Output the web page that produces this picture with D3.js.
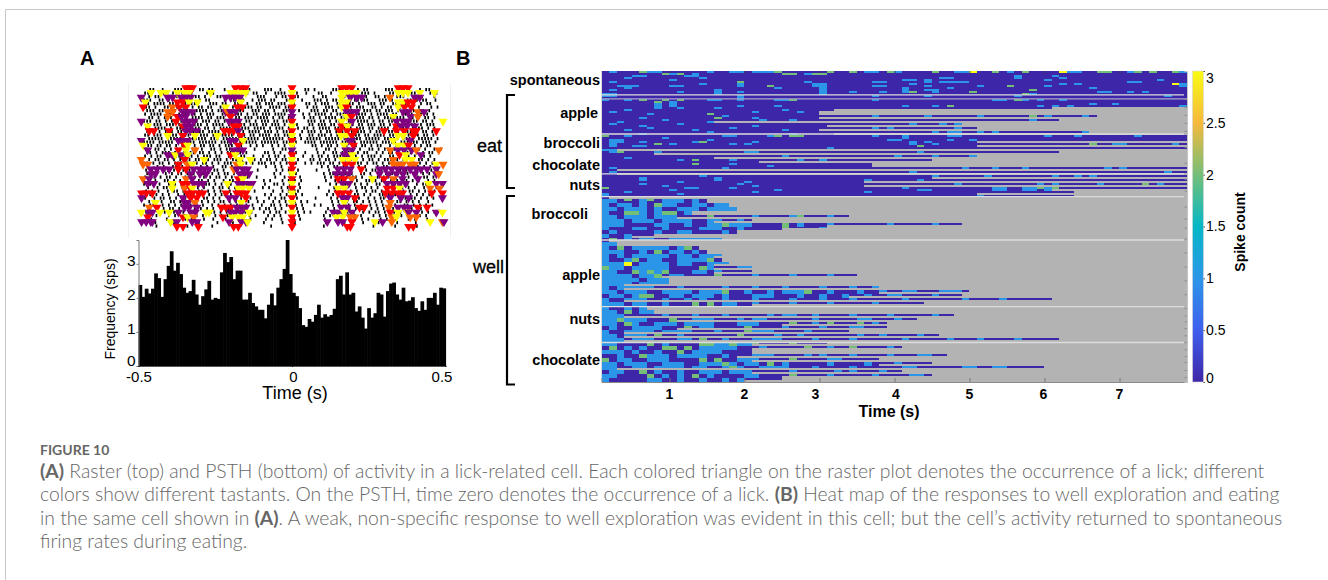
<!DOCTYPE html>
<html>
<head>
<meta charset="utf-8">
<script src="https://cdn.jsdelivr.net/npm/d3@7"></script>
<style>
	html, body { margin: 0; padding: 0; background: #fff; }
	svg { display: block; }
	text { font-family: "Liberation Sans", Arial, sans-serif; fill: #000; }
	.caption text { font-family: Lato, "Open Sans", sans-serif; fill: #666; }
</style>
</head>
<body>
<svg id="figure" width="1328" height="580"></svg>
<script>
// PSTH, sps per bin
var psthValues = [2.38,2.03,2.27,2.13,2.27,2.72,2.58,2.03,2.55,2.94,3.37,2.8,3.03,2.7,2.3,2.15,2.2,2.53,2.1,1.8,2.05,2.25,2.5,1.95,2.0,1.97,2.75,3.32,3.05,3.2,2.55,2.8,2.8,1.95,1.95,2.15,1.85,1.75,1.65,1.65,1.4,1.8,2.13,1.78,2.3,2.55,2.85,3.7,2.7,2.15,2.05,1.7,1.2,1.15,1.38,1.3,1.5,1.8,1.42,1.52,1.45,1.5,1.68,2.55,2.65,2.1,2.75,2.1,2.15,1.6,1.75,1.42,1.1,1.7,1.42,1.55,2.15,2.1,1.45,2.2,2.42,2.45,2.1,1.95,2.3,1.9,1.92,2.02,1.7,1.62,1.9,1.65,2.0,2.0,2.15,1.8,2.3,2.28];
var psthYTicks = [0, 1, 2, 3];
var psthXTicks = [-0.5, 0, 0.5];

// raster spikes, one string per trial row, | is a spike in that time bin
var rasterRows = [
	"....||..|...|||.....||.||...|....||.|....|||..|.......||.|.....|||.....|.||.....|||..|.....|.||....",
	"..||...|||.|..||.|....|||.....||...|.||..|..||||...|..|...||..|.....||..|||.|....||.|...||....|.|..",
	"...|.||...|.|||...||.|...||.|||..|....|||...|.||..||....|..||....||.|...||..||.|...|||..|.||...|...",
	"..|||..||.|...||||..|.||....|.||.||..|.|||.||...|||..|...|||.|.||...|.||.||...|||.|....||.|.||..|..",
	"...|.||||.|||..|.|||...|||.||..|||.|..||.|||.|||..|...||.|.|||..||.|||.|..|||.||..|||.||...|.||....",
	"..||.|..|||.||||.|.||.||..|||.|.|.|||.||..||||.||.....|.||..|||.|.|||.|||..||.|.||.|||.||.|...|.|..",
	"...|||.||..||.|||..||||.|.||.|||.||..|||.||.|..|||..|...|||.||.||..|||.|.|||.||.|||.|..|||.||.|....",
	"..|.||||.|||.|.||||.|.|||..||.||||.|.||.|||.||||.|...|.|.||||.|.|||.||.|||.|.||||.||.||.|.||||.|...",
	"...||.|.|||.||.|.||||.||.|||.|.||.|||.||||.|.||.||...|.||.|.||||.||.|.|||.||.|.|||.|||.||.|.||.|...",
	"..|||.||.|.||||.||.|.|||.||.||||.|.||.|.|||.||.|||.....|||.||.|.|||.||.||||.|.||.||||.|.|||.||.|...",
	"...|.|||.|||.|.||.|||.|.||||.||.|||.|||.||.|||.|.|.|...||.|||.||.|.|||.||.|||.||.|.||||.||.|.|||..",
	"..||.||||.|.|||.||||.||.|.||||.|.|||.||||.|.|||.||.|.||.|.||||.||||.|.|||.||.||||.|.|||.||||.|.|...",
	"...|||.|.|||.||.|.||||.||||.|.|||.|.||||.|||.|.|||...|.|||.|.||.||||.|.|||.|.|||.||.|.|||.|.||.|..",
	"..||.|||.||||.|||.|.|||.||.||||.|||.||.||||.||.|||..|..||.|||.|.||||.|||.||.||||.|||.|.||||.||.|...",
	"...|||||.||||||.||||||.|||.||||||.|||||.|||||||.|||.|.|||||.|||||.||||||.|||||.|||||.||||.|||||.|..",
	"..||||.|||||.||||||.||||||.|||||.||||||.||||||.|||||..||||.||||||.|||||.||||||.|||||.||||||.|||.|..",
	"...||.||.||.|.||..|.||.||.|.|||.||..|.|.|..|.|.|..|.....||.|.||.|.||..|.||.|.||..|.||.||.|.|.||....",
	"..|..||.|.|.||.|.||.|..||.|.||...|...|.....|..||.|.......|..||.|..||.|.|..||.|.||.|..||.|.|.|..|.|.",
	"...||.|.|||.|..|.||.||.|.|.|.|||.|.|.....||.|.|..|.|..|...|.|..||.|.||.|.||..|.|.||.|..||.|.|.||..",
	"..|.|.||..|.||.|||.|.|||.||..|.|.||..|..|.|.||.|.||..|..|.||.|.|||.|.||.|.|||.|..||.|.||.|.||.|...",
	"...|.||.||.|.|.||.||..|.|||.|.||.|..||.|.||.|.||.|.|...||.|.||.|.||.||..|.||.|.|||.|.||.|.||.|.|..",
	"..||.|.||.|.|||.|.||.||.|.|.|||.|.||.|.|||.||.|.||.|..|.|.|||.||.|.||.|||.|.||.|.||.|||.||.|.|.|..",
	"...|..|.|..||.|.|...|.|.|..||.|.|........|..|.|..|.........|.|.||.|..|.|.|...|.||.|.|..||.|.|.|....",
	"..|.|...||.|..|.||.|..|.||.|...|......|.....|.|.|..|.....|...|..|.|.|..|.|.||.|..|.||.|..|.|..|.|..",
	"...||.|..|.|.||.|.|.||..|.|.||.|..|.........|.|..|.|........|.||.|.|.|..||.|..|.|.|.||.|.||.|.|....",
	"..|..|.|.||.|..||.|..|.|.||.|.|....|..|.....|..|.|..|.......|.|..|.|.||.|..|.|.||..|.|.|..|.||.|...",
	"...|.|..||.|.|.|.|.||.|.|..|.||.|.......|.|...|.|.|.|.......|..|.||.|.|..||.|.|..|.|.||.|.|..|.|..",
	"..|.||.|..|.|.||..|.|.||.|.|..|..|.|.....|..||.|.|..|.........|.|..||.|.|.|..||.|.||.|.|..|.||.....",
	"...|..|.||.|..|.||.|.|..|.||.|.|........|.|...|.|.|.|.....|....|.|.|..|.||.|.|..|.|.||.|.|..|.|.|..",
	"..|.|.|..|.||.|.|..||.|.|.|..|.|.|...|.....|..|.|.||.........|.||.|.|.|..|.||.|.|.|..|.||.|.|..|...",
	"...||.|.|.|..|.|.||.|..|.|.||.|..|.|.....|.|..|.|..|.|.......|.|..|.|.||.|.|..||.|.|.|..|.|.|.|....",
	"..|..|.||.|.|..|.|.|.||.|.|..|.|.|..|.|...|.|.||.|.|.....|....|.|.||.|.|..|.|.||.|..|.|.||.|.|.|...",
	"...|.|.|..||.|.|.|..|.|.|.||.|.|.|.|..|.|..|.|.|.||.|.|.......|.|.|..||.|.|.|.|..|.||.|.|.|..|.....",
	"..|.||..|.|.|.||.|.|.|..|.|.|.|.||.|.|..|..||.|.|.||.|...|.|...|.|.||.|.|..|.|.|.|.|..||.|.|.|.|...",
	"...|..|.|.||.|..|.|.|.|.|..|.||.|.|..|.|.||.|.|..|.|.|.......|.|.|..|.|.||.|.|.|..|.|.|.|.||.|.....",
	"..|.|.|.|..|.||.|.|..|.||.|.|...|.|.|...|.|.||.|.|.|.|.|....|..|.|.|.|..|.|.||.|.||.|..|.|.|.|.|...",
	"...|..|...|.|..|.|.|.|...|.|.|.|....|.|...|.|.|...|.|.......|.|...|.|.|.|...|.|.|.|..|.|...|.|.....",
	"....|....|.....|.|...|..|...|.|.....|....|.|..|...|.|.......|...|...|...|.|...|.|..|...|.|...|.....",
	".....|.....|.......|.....|....|.........|.....|...|.........|.....|.....|....|.....|.....|.........",
	"......|.........|.......|.......|..........|......|.........|.......|.......|......|......|........"
];

// licks per raster row, letter is the tastant colour, number is ms from lick
var lickRows = [
	"r-346 r-335 r-324 r-184 r-167 r-151 r0 r162 r178 r194 r346 r362 r378",
	"y-459 y-427 y-410 y-373 y-350 y-335 y-265 y-200 y-184 y-167 y-151 y0 y162 y178 y194 y210 y346 y362 y378 y416 y464",
	"p-491 p-405 p-389 p-361 p-346 p-330 p-216 p-200 p-184 p-170 r0 y162 p190 p210 p227 o319 p400 p416",
	"y-478 r-373 r-356 y-335 y-308 y-167 y0 y162 y178 y346 y362 r378 r394",
	"r-485 o-389 r-367 r-346 y-216 r-178 r-162 r0 y162 r178 y346 r367 r389",
	"p-216 o-405 o-389 p-356 p-340 p-324 o-210 p-200 p-184 p0 p178 p194 p210 p362 p378 o410 p430",
	"o-405 r-373 p-360 p-346 r-200 p0 y178 r194 y330 p385 o410",
	"p-491 r-378 p-350 p-335 p-320 p-205 p-190 p-175 r0 y162 p195 p340 p362 p378 y492",
	"y-470 r-356 p-345 p-330 r-190 r-175 y0 r162 y180 r340 p355 p375 p400",
	"r-465 r-450 r-400 p-346 p-330 p-310 r-220 r-205 r-190 p-175 r0 r155 r180 r205 r300 r340 r365 r395 r405 r470",
	"y-405 r-356 y-316 y-243 r-167 y0 y160 y175 r195 y345 y362 r395",
	"p-491 p-370 p-355 p-340 p-200 p-184 y-160 r0 p185 p195 y330 p385",
	"y-485 r-350 y-340 r-175 y0 y170 r200 y345 y365 r380",
	"p-470 r-370 y-345 o-316 p-190 p-175 p-160 p0 p175 p195 o320 p345 p365 p390 o405 o478",
	"p-405 p-390 y-380 p-360 y-340 r-200 y-185 r0 p170 p185 y196 r350 y370 p420",
	"o-491 r-350 y-286 y-170 y-135 y0 y165 y185 y205 o330 y370 y390",
	"o-485 o-470 r-370 o-340 y-325 o-180 y-167 r0 r175 r195 o330 o345 o360 o385 o400 y470 o492",
	"p-460 p-440 p-420 p-400 r-370 r-345 p-320 p-300 p-285 p-270 o-190 p-180 p-160 p-145 r0 p150 p170 p190 r225 p285 p305 p325 p345 p365 p385 p405 p420 p440 p470",
	"p-460 p-445 p-330 p-300 p-280 p-170 p-155 p-140 y0 p145 p165 p185 p285 p315 p340 p362 p400 p470 o478",
	"o-485 p-465 o-345 p-325 r-175 y-160 r0 r150 r170 o195 y262 r300 o330 p360 p410",
	"p-470 p-450 y-390 r-355 r-340 p-320 p-305 p-290 y-210 p-175 p-160 p-140 p-130 y0 p165 p185 p310 p330 p350 p370 y445 p470 p490",
	"y-390 o-350 r-330 y-325 y-175 y-160 y-140 r0 y150 y170 r310 r330 y350 o450 o480",
	"r-490 r-475 r-455 r-340 r-325 r-305 r-290 r-215 r-180 r-165 r-150 y0 r150 r165 r185 r305 r325 r345 r360 r455 r490",
	"p-490 p-355 r-330 r-310 p-205 p-185 r-150 r0 p165 p180 r205 p320 p355 p380 p490",
	"y-445 p-350 p-340 o-316 y-165 y0 y170 o320",
	"o-465 r-440 p-350 p-335 p-310 r-230 r-215 r-200 p-180 p-165 p-150 r0 p160 p180 r220 r235 o315 p345 p365 p380 r410 r440",
	"y-491 p-465 p-455 y-430 y-400 p-370 p-330 p-315 y-280 y-270 p-200 p-185 p-165 y-140 y0 p135 p150 y170 p195 r320 y345 y375 p380 p405 p470 y490",
	"r-470 r-355 y-340 o-320 r-225 y-195 y-175 y-160 r0 y145 y165 o190 o205 o325 y340 o385 o405",
	"p-490 p-475 p-460 p-455 y-395 p-375 p-325 p-310 p-205 p-165 p-150 y-145 r0 p115 p150 p165 r195 y270 p295 o325 y450 o490 p495",
	"r-375 r-355 r-305 r-190 r-175 r0 r180 r190 r380 r395"
];
var lickColors = { r: "#ff0000", y: "#ffff00", p: "#800080", o: "#ff6600" };

// heat map: last column of each trial, last column drawn at full height (thinner after it)
var heatEnds = [78,78,78,78,78,78,78,78,78,60,29,66,61,48,50,65,78,78,78,78,61,50,44,36,78,78,78,78,78,78,63,63,
	14,17,18,12,33,20,48,30,18,7,16,2,13,14,16,16,17,20,20,34,9,9,37,49,48,60,43,6,7,47,42,38,38,33,45,61,30,40,20,46,37,44,59,40,44,24];
var heatSolid = [78,78,78,78,78,78,78,78,78,31,29,29,15,30,29,31,78,50,50,2,7,15,21,36,2,2,44,35,35,60,50,1,
	14,17,18,12,10,15,30,24,18,4,1,2,13,14,15,16,15,15,15,8,9,3,3,37,33,3,20,6,7,3,10,24,10,3,3,3,20,20,20,18,20,37,2,20,24,19];
// raised cells per trial: a blue top half, b blue bottom half, f blue, g green top, h green bottom, G green, y yellow top
var heatMarks = [
	"a1 g5 a6-7 h8 b9 h10 b12 a14 a17-18 a20-22 g23 h24-25 b27 h28-29 g30 g33 a35-36 g38 a39 g44 a47-48 y49 g52 a54 g56 y61 a62-63 g66 g67 a70 g71 g73 g76 a77",
	"b3 a4-5 a11-12 b13 b45-46 f55 a60 b61",
	"b1 a9 h18 b27 b36-37 a40 a41 f43 b45-48 a59 b70-71 a74",
	"b2-4 b9-10 a13 f18 h22 f28-29 b36-37 a41 b43 b50 h54 b59 a61 a63 y76 f77",
	"b1 a3 b15 a23 f29 f40 b43-44 a46 h57 a65",
	"b0-1 a10 f15 a18 f29 a33 a37 a40 g41 a44 g49 h56 b57 a66-67 a70 a72",
	"a0-1 f18 a36 a43 a55 a75",
	"a0 g5 a3 h7 g8 b9 g10 a14-15 a18 a23-24 g25 a36 a52-53 g55 a56 a58 a61",
	"f7 f9 b18 b23 b40 b44 h46 b58 b60 b62 a65 a68 b77",
	"b3 a7 a10 a15 b24",
	"a1 b6 h14 a20 a26",
	"b5 a16 h15 b20 a36 a43 a50 g57 a59 f64",
	"b2 a8 b14 a21 a25 a57",
	"a1 b5 a10 b20 a41 a45 a47",
	"b3 a6 b12 a17 b24 a36 a38 a47",
	"b5 a14 b25 a44 a46-47 a50 a52 a64",
	"g0 a3 b8 a16 a17 a22 g23 g25-26 a36 f40 a46-47 a59 a63 a71",
	"f1-2 b5 b12 h13 a14 b20 a38 a39 b41 b43 a46 a49",
	"f1 b4-5 g7 a9 a17 a19 a41 h42 a44 g65 a68-69 a76",
	"b0-1 a30",
	"a1 g2 a7 a19-20 a42",
	"b3 a24 a39 a44 a49",
	"a10 g12 a17 a26 a29",
	"g12 a17 b22",
	"a1 b16 a48 a52 a56 a67 a69",
	"a1 a41 a75",
	"b5 a13 b15 a44 a51 a60 a63 a65",
	"a5 b10 a15 b19 a35 a42",
	"a5 b8 a18 b20 a47 a58 a60 a66 g72 a74",
	"g0 b9 a11-12 a17 b23 a40 b42-43 f52-53 f56-57 g58 f59 g60",
	"b0 a3 b10 a20 a35",
	"a0 a50",
	"f0-1 f3 g3 f5-6 g6 f8-10 f12",
	"f0 f2-3 f5 G7 f8-9 f12-13 f15-16",
	"f0-1 f3 f4-5 f7 f10-12 f14-17",
	"f0 G3-4 f5 f7 G8 G9 f11",
	"f0-1 f3-5 f7-9 f14 G14 f20 f25 G26 f30",
	"f0-2 f4-6 f8-11 f14-15 f18",
	"f0-1 f2 f7-8 f11 f14-15 f17-19 G16 G24 f26 f30 f38 f44",
	"f0 f4-5 f8 f13-15 f18 G24 f29-30",
	"f1 f7 f10-11 f16",
	"f0 f3",
	"G1 f3 f5-6 f9-15",
	"f0-1",
	"f0 G2 f4-8 f10-11 G11",
	"f0-2 f5 G7 f9-10 f12 G14",
	"f0 f2 f4-8 f10-11 f13-15",
	"f0 f3-4 G4 f6-7 f10-13 G14",
	"f0-2 Y3 f5-8 f10-11 f14-16",
	"G0 f1-2 f4-8 f13-14 f18-19 G13",
	"f0-1 G4 f5-8 G6 G8 f12-13 f15",
	"f0-3 f5-6 G7 f9-10 G15 f20 f25 f30",
	"f0-4 f6-7 f8",
	"f0-3 f5-8",
	"f0 f2-6 f10 f16 f20 f24 f29 f33 f36",
	"f0-1 f3-5 f8-11 f13-15 G16 f19 f22 f24-26 G27 f30 f34 f37 f40-41 f45-47",
	"f1-2 f4-5 G5-6 f9-10 f12-14 f16 f20-22 f26 f29 f32 f35 f38-39 f44",
	"f0 f3-5 f8 f11 f13 f16 f20 f25 f29 f33 f40 f48 f53",
	"f0-2 f4-5 f8 G12 G14 f16-17 f20 f25 f30 f36",
	"f0 f3 f5",
	"f0-1 G3 f5-7",
	"f0-1 f2 f8 f12 f16 f22 f24-25 f28 f33 f38 f44",
	"G0 f0-1 G2 f3-5 G9 f12-14 f18 f20-21 f28 f34-35 f39",
	"f0-1 f3-4 G3 f7-9 f11-14 f18-20 G25 f28 G30 G34 f36",
	"f1 f4-7 G11 f13-14 f19 G19 f24 f29 f33-34",
	"f0 f3-6 f8-11 G19 f15 f20-22 f27",
	"f0-1 f3-5 G7 f10 G18 f23 f26 f34 f37 f42",
	"f0-2 f4-6 f10-11 G13 f16 f20-23 f28 f33 f40 f46 f50 f55",
	"f0-1 G6 f8 G13 G14 f15-19 G17 G20 G25",
	"G1 f3 f5 G8-9 f11 G11 f13-17 f21 G27 f30 G33 f38",
	"f0-2 f4 f7 G10 f12-15 G20",
	"f2 f5-8 G5 f10-13 f16 f20-22 f27 f29 f33 f38 f42-43",
	"G0 f2-3 f6-8 G13 f15 G15 f18-20 f25 G25 f30-31",
	"f0-1 f3-5 G8 f8-10 f13-17 G16 f19-20 f24 G22 f30 f35 f39",
	"f0-1 f4 f5 f7-10 f12-13 f16-18 G17 f21-24 f28 f33 f40-41 f48-49 f52-53",
	"f1-2 G5 f7 f10 f13-15 f17-19 f25 f31 f33 f37",
	"f0-1 G6 f8 f10 G12 f14 f19-20 G25 f30 f36 f41-42",
	"f0 f6-7 f10 f13 f16 f18"
];

// row numbers of the pale dividers and of the small ticks on the right edge
var heatDividers = [6, 15.8, 25.8, 31.5, 42.4, 59.1, 68.1];
var heatRowTicks = [7,9,11,13,15,19,23,27,30,34,37,39.3,42,45.5,49,52.5,56,59.5,61.3,62.8,64.5,66.3,68,69.8,71.5,73,75,76.8];
var heatTimeTicks = [1, 2, 3, 4, 5, 6, 7];
var colorTicks = [0, 0.5, 1, 1.5, 2, 2.5, 3];
var colorStops = ["#3e26a8", "#3f5fee", "#2b96e8", "#05b8c6", "#74bf78", "#f5b93c", "#f9fb14"];

var groupLabels = [
	{ text: "spontaneous", row: 2.3, end: 600 },
	{ text: "apple", row: 10.5, end: 598 },
	{ text: "broccoli", row: 18, end: 600 },
	{ text: "chocolate", row: 23.5, end: 600 },
	{ text: "nuts", row: 28.5, end: 600 },
	{ text: "broccoli", row: 35.9, end: 588 },
	{ text: "apple", row: 51.2, end: 600 },
	{ text: "nuts", row: 62.2, end: 600 },
	{ text: "chocolate", row: 72.5, end: 600 }
];

var captionLines = [
	[["(A)", 1], [" Raster (top) and PSTH (bottom) of activity in a lick-related cell. Each colored triangle on the raster plot denotes the occurrence of a lick; different", 0]],
	[["colors show different tastants. On the PSTH, time zero denotes the occurrence of a lick. ", 0], ["(B)", 1], [" Heat map of the responses to well exploration and eating", 0]],
	[["in the same cell shown in ", 0], ["(A)", 1], [". A weak, non-specific response to well exploration was evident in this cell; but the cell\u2019s activity returned to spontaneous", 0]],
	[["firing rates during eating.", 0]]
];

var svg = d3.select("#figure");

function addText(parent, x, y, str, size, weight, anchor) {
	return parent.append("text")
		.attr("x", x).attr("y", y)
		.attr("font-size", size)
		.attr("font-weight", weight || "normal")
		.attr("text-anchor", anchor || "start")
		.text(str);
}

function drawFrame() {
	svg.append("path")
		.attr("d", "M1328,9.5H5.5V580")
		.attr("fill", "none")
		.attr("stroke", "#c8c8c8");
	addText(svg, 80, 65, "A", 20, "bold");
	addText(svg, 456, 65, "B", 20, "bold");
}

function drawRaster() {
	var x = d3.scaleLinear().domain([-500, 500]).range([138.5, 445.5]);
	var bin = d3.scaleBand().domain(d3.range(100)).range([137, 447]);
	var row = d3.scaleBand().domain(d3.range(rasterRows.length)).range([88, 228]);
	var lickRow = d3.scaleBand().domain(d3.range(lickRows.length)).range([85.5, 229]);
	var defs = svg.append("defs");
	defs.append("filter").attr("id", "soft")
		.append("feGaussianBlur").attr("stdDeviation", 0.35);
	var g = svg.append("g").attr("class", "raster");

	// very pale box round the raster
	g.append("path")
		.attr("d", "M128.5,84V238M450.5,84V238")
		.attr("stroke", "#f1f1f1")
		.attr("fill", "none");

	var spikes = [];
	rasterRows.forEach(function(str, r) {
		str.split("").forEach(function(ch, c) {
			if (ch === "|") spikes.push({ r: r, c: c });
		});
	});
	var marks = g.append("g").attr("filter", "url(#soft)");
	// rows are staggered a little so the bins do not read as vertical stripes
	marks.selectAll("rect.spike").data(spikes).enter()
		.append("rect")
		.attr("class", "spike")
		.attr("x", function(d) { return bin(d.c) + (d.r % 3) * 1.03; })
		.attr("y", function(d) { return row(d.r); })
		.attr("width", 1.7)
		.attr("height", 3.2)
		.attr("fill", "#000");

	var licks = [];
	lickRows.forEach(function(str, r) {
		str.split(" ").forEach(function(tok) {
			licks.push({ r: r, color: lickColors[tok[0]], ms: +tok.slice(1) });
		});
	});
	var tri = d3.symbol().type(d3.symbolTriangle).size(36);
	marks.selectAll("path.lick").data(licks).enter()
		.append("path")
		.attr("class", "lick")
		.attr("d", tri)
		.attr("fill", function(d) { return d.color; })
		.attr("transform", function(d) {
			return "translate(" + x(d.ms) + "," + (lickRow(d.r) + lickRow.bandwidth() / 2) + ") rotate(180)";
		});
}

function drawPsth() {
	var g = svg.append("g").attr("class", "psth");
	var band = d3.scaleBand().domain(d3.range(psthValues.length)).range([138.5, 445.5]);
	var x = d3.scaleLinear().domain([-0.5, 0.5]).range([138.5, 445.5]);
	var y = d3.scaleLinear().domain([0, 3.7]).range([366, 240]);

	g.selectAll("rect").data(psthValues).enter()
		.append("rect")
		.attr("x", function(d, i) { return band(i); })
		.attr("y", function(d) { return y(d); })
		.attr("width", band.bandwidth() + 0.6)
		.attr("height", function(d) { return 366 - y(d); })
		.attr("fill", "#000");

	var yAxis = d3.axisLeft(y).tickValues(psthYTicks).tickSize(2).tickPadding(1).tickFormat(d3.format("d"));
	var yG = g.append("g").attr("transform", "translate(138.5,0)").call(yAxis);
	yG.select(".domain").attr("stroke", "#777");
	yG.selectAll("line").attr("stroke", "#777");
	yG.selectAll("text").attr("font-size", 15.5).attr("fill", "#222").attr("dy", "0.1em");
	yG.selectAll("text").filter(function(d) { return d === 0; }).attr("dy", "-0.05em");

	var xAxis = d3.axisBottom(x).tickValues(psthXTicks).tickSize(1).tickPadding(4).tickFormat(function(d) {
		return d === 0 ? "0" : String(d);
	});
	var xG = g.append("g").attr("transform", "translate(0,366)").call(xAxis);
	xG.select(".domain").attr("stroke", "#555");
	xG.selectAll("text").attr("font-size", 15).attr("fill", "#222");
	// the two end labels sit inside the way the figure has them
	xG.selectAll("text").filter(function(d) { return d === 0.5; }).attr("dx", -4);
	xG.selectAll("text").filter(function(d) { return d === 0; }).attr("dx", 1);

	addText(g, 295, 399, "Time (s)", 18, "normal", "middle").attr("fill", "#222");
	addText(g, 0, 0, "Frequency (sps)", 14, "normal", "middle")
		.attr("fill", "#222")
		.attr("transform", "translate(115,309) rotate(-90)");
}

function parseHeatRow(r) {
	// each column has a top half and a bottom half, null stays grey
	var cells = [];
	var c, i;
	for (c = 0; c < heatEnds[r]; c++) {
		cells[c] = [0, 0];
	}
	heatMarks[r].split(" ").forEach(function(tok) {
		if (!tok) return;
		var code = tok[0];
		var span = tok.slice(1).split("-").map(Number);
		var last = span.length > 1 ? span[1] : span[0];
		for (i = span[0]; i <= last && i < heatEnds[r]; i++) {
			if (code === "f") cells[i] = [1, 1];
			if (code === "a") cells[i] = [1, 0];
			if (code === "b") cells[i] = [0, 1];
			if (code === "G") cells[i] = [2, 2];
			if (code === "g") cells[i] = [2, 0];
			if (code === "h") cells[i] = [0, 2];
			if (code === "y") cells[i] = [3, 0];
			if (code === "Y") cells[i] = [3, 3];
		}
	});
	// past the solid part a trial is only a thin line
	for (c = heatSolid[r]; c < heatEnds[r]; c++) {
		cells[c] = [Math.max(cells[c][0], cells[c][1]), null];
	}
	return cells;
}

function drawHeatmap() {
	var g = svg.append("g").attr("class", "heat");
	var left = 601.5, right = 1187, top = 71, bottom = 382;
	var col = d3.scaleBand().domain(d3.range(78)).range([left, right]);
	var half = d3.scaleBand().domain(d3.range(156)).range([top, bottom]);
	var rowY = d3.scaleLinear().domain([0, 78]).range([top, bottom]);
	var time = d3.scaleLinear().domain([0.093, 7.9]).range([left, right]);
	var color = d3.scaleLinear().domain(colorTicks).range(colorStops);

	g.append("rect")
		.attr("x", left).attr("y", top)
		.attr("width", right - left).attr("height", bottom - top)
		.attr("fill", "#b3b3b3");

	var cells = [];
	heatEnds.forEach(function(end, r) {
		parseHeatRow(r).forEach(function(pair, c) {
			if (pair[0] !== null) cells.push({ c: c, h: r * 2, v: pair[0] });
			if (pair[1] !== null) cells.push({ c: c, h: r * 2 + 1, v: pair[1] });
		});
	});
	g.selectAll("rect.cell").data(cells).enter()
		.append("rect")
		.attr("class", "cell")
		.attr("x", function(d) { return col(d.c); })
		.attr("y", function(d) { return half(d.h); })
		.attr("width", col.bandwidth())
		.attr("height", half.bandwidth())
		.attr("fill", function(d) { return color(d.v); })
		.attr("shape-rendering", "crispEdges");

	g.selectAll("line.divider").data(heatDividers).enter()
		.append("line")
		.attr("class", "divider")
		.attr("x1", left).attr("x2", right - 3)
		.attr("y1", function(d) { return rowY(d); })
		.attr("y2", function(d) { return rowY(d); })
		.attr("stroke", "#dcdcdc")
		.attr("stroke-width", 1.4);
	// the lilac one just under the spontaneous block
	g.append("line")
		.attr("x1", left).attr("x2", right)
		.attr("y1", rowY(7)).attr("y2", rowY(7))
		.attr("stroke", "#aaa6cc")
		.attr("stroke-width", 1.2);

	// bold tick labels, hand placed in the figure so 3 and 4 are slightly off their ticks
	var labelShift = { 3: -4, 4: 1.5, 6: -1 };
	var xAxis = d3.axisTop(time).tickValues(heatTimeTicks).tickSize(4).tickFormat("");
	var xG = g.append("g").attr("transform", "translate(0," + bottom + ")").call(xAxis);
	xG.select(".domain").attr("stroke", "#8a8a8a");
	xG.selectAll("line").attr("stroke", "#777");
	heatTimeTicks.forEach(function(t) {
		addText(g, time(t) + (labelShift[t] || 0), 399, t, 14, "bold", "middle");
	});
	var topAxis = d3.axisBottom(time).tickValues(heatTimeTicks).tickSize(2).tickFormat("");
	var topG = g.append("g").attr("transform", "translate(0," + top + ")").call(topAxis);
	topG.select(".domain").remove();
	topG.selectAll("line").attr("stroke", "#444");

	var rightAxis = d3.axisLeft(rowY).tickValues(heatRowTicks).tickSize(2.5).tickFormat("");
	var rG = g.append("g").attr("transform", "translate(" + right + ",0)").call(rightAxis);
	rG.select(".domain").attr("stroke", "#c4c4c4");
	rG.selectAll("line").attr("stroke", "#8c8c8c");

	addText(g, 889, 417, "Time (s)", 16, "bold", "middle");

	groupLabels.forEach(function(d) {
		addText(g, d.end, rowY(d.row) + 5, d.text, 14.5, "bold", "end");
	});

	// brackets grouping the trials
	g.append("path")
		.attr("d", "M515,95H507V188H515M515,196H507V384.5H515")
		.attr("fill", "none")
		.attr("stroke", "#000")
		.attr("stroke-width", 2.2);
	addText(g, 477, 152, "eat", 18, "normal").attr("stroke", "#000").attr("stroke-width", 0.3);
	addText(g, 473, 273, "well", 18, "normal").attr("stroke", "#000").attr("stroke-width", 0.3);

	drawColorbar(color, top, bottom);
}

function drawColorbar(color, top, bottom) {
	var g = svg.append("g").attr("class", "colorbar");
	var defs = svg.append("defs");
	var grad = defs.append("linearGradient")
		.attr("id", "parula")
		.attr("x1", 0).attr("x2", 0).attr("y1", 1).attr("y2", 0);
	colorTicks.forEach(function(v, i) {
		grad.append("stop").attr("offset", v / 3).attr("stop-color", colorStops[i]);
	});
	g.append("rect")
		.attr("x", 1192.5).attr("y", top)
		.attr("width", 11).attr("height", bottom - top)
		.attr("fill", "url(#parula)")
		.attr("stroke", "#d5d5d5")
		.attr("stroke-width", 0.6);
	var y = d3.scaleLinear().domain([0, 3]).range([bottom, top]);
	var axis = d3.axisRight(y).tickValues(colorTicks).tickSize(1.5).tickPadding(1).tickFormat(function(d) { return d; });
	var aG = g.append("g").attr("transform", "translate(1203.5,0)").call(axis);
	aG.select(".domain").remove();
	aG.selectAll("line").attr("stroke", "#555");
	aG.selectAll("text").attr("font-size", 14).attr("fill", "#222");
	aG.selectAll("text").filter(function(d) { return d === 0; }).attr("dy", "0");
	aG.selectAll("text").filter(function(d) { return d === 3; }).attr("dy", "0.85em");
	addText(g, 0, 0, "Spike count", 14, "bold", "middle")
		.attr("transform", "translate(1245,232) rotate(-90)");
}

function drawCaption() {
	var g = svg.append("g").attr("class", "caption");
	addText(g, 40, 455, "FIGURE 10", 14, "bold");
	captionLines.forEach(function(parts, i) {
		var t = g.append("text")
			.attr("x", 40).attr("y", 478 + i * 23.3)
			.attr("font-size", 19.35);
		parts.forEach(function(p) {
			t.append("tspan")
				.attr("font-weight", p[1] ? "bold" : "300")
				.text(p[0]);
		});
	});
}

drawFrame();
drawRaster();
drawPsth();
drawHeatmap();
drawCaption();
</script>
</body>
</html>
